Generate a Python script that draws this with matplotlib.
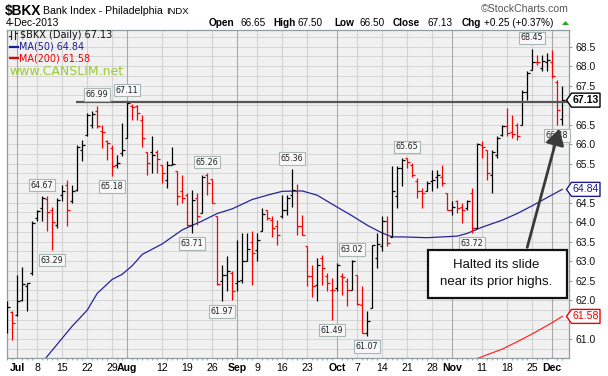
import matplotlib
matplotlib.use("Agg")
import matplotlib.pyplot as plt
from matplotlib.patches import Polygon, Rectangle, FancyArrowPatch
from matplotlib.lines import Line2D
from matplotlib.transforms import ScaledTranslation
import pandas as pd

W, H = 608, 376

# ---------------- data ----------------
holidays = ["2013-07-04", "2013-09-02", "2013-11-28"]
dates = [d for d in pd.bdate_range("2013-06-27", "2013-12-04")
         if d.strftime("%Y-%m-%d") not in holidays]

opens = [61.60, 61.70, 61.62, 62.00, 62.35, 62.70, 64.10, 64.36, 64.60, 64.30,
         63.93, 64.70, 64.96, 64.53, 64.83, 65.86, 66.24, 66.50, 66.84, 66.33,
         66.07, 65.90, 65.47, 65.77, 66.16, 66.97, 66.97, 66.63, 65.81, 65.81,
         65.81, 65.47, 65.09, 65.47, 65.30, 64.79, 64.70, 63.93, 64.62, 64.23,
         65.20, 65.10, 64.15, 62.48, 62.65, 62.70, 62.44, 62.52, 62.99, 63.50,
         63.29, 63.76, 64.32, 64.06, 63.89, 64.15, 64.32, 64.70, 64.79, 63.89,
         63.38, 62.61, 62.39, 63.08, 62.61, 62.27, 62.31, 62.61, 62.48, 62.27,
         62.65, 61.88, 61.15, 61.80, 63.08, 63.38, 64.02, 63.63, 64.66, 65.39,
         65.64, 65.47, 65.05, 64.79, 64.79, 65.05, 65.17, 65.17, 64.75, 64.32,
         64.53, 64.40, 64.36, 64.75, 63.85, 65.99, 65.86, 65.22, 65.73, 66.24,
         66.46, 66.30, 66.50, 66.50, 67.35, 67.91, 68.12, 67.95, 68.12, 68.12,
         67.60, 66.65]
highs = [61.97, 61.71, 62.65, 62.86, 62.44, 64.02, 64.32, 64.67, 64.66, 64.40,
         64.62, 64.96, 65.09, 64.96, 65.99, 66.11, 66.80, 66.84, 66.99, 66.50,
         66.11, 65.99, 65.73, 66.54, 67.11, 67.03, 67.01, 66.76, 65.81, 66.20,
         65.86, 65.47, 65.56, 65.94, 65.30, 65.22, 64.75, 64.83, 64.75, 65.20,
         65.26, 65.10, 64.15, 62.90, 63.12, 62.74, 63.55, 63.72, 63.72, 63.76,
         63.72, 64.36, 64.32, 64.15, 64.06, 64.70, 64.70, 65.36, 64.98, 64.19,
         63.38, 62.91, 63.08, 63.16, 62.69, 62.57, 62.95, 62.69, 62.57, 63.02,
         62.65, 62.35, 61.71, 63.42, 63.72, 64.15, 64.15, 65.43, 65.43, 65.64,
         65.65, 65.52, 65.13, 64.87, 65.05, 65.34, 65.34, 65.47, 64.75, 64.53,
         64.58, 64.49, 64.58, 64.87, 66.03, 66.07, 65.86, 65.86, 66.20, 66.50,
         66.93, 66.76, 66.54, 67.40, 67.87, 68.45, 68.30, 68.30, 68.34, 68.42,
         67.65, 67.50]
lows = [61.15, 60.98, 61.58, 61.97, 61.71, 62.65, 64.04, 64.03, 63.76, 63.29,
        63.85, 64.53, 63.89, 64.49, 64.79, 65.56, 66.20, 66.41, 66.41, 65.90,
        65.60, 65.18, 65.39, 65.69, 66.16, 66.63, 66.63, 65.94, 65.22, 65.26,
        65.26, 65.00, 64.87, 65.47, 64.45, 64.49, 63.89, 63.71, 63.93, 64.23,
        64.70, 64.49, 62.39, 61.97, 62.22, 62.01, 62.22, 62.44, 62.99, 62.39,
        62.99, 63.76, 64.06, 63.63, 63.42, 64.10, 64.19, 64.40, 63.68, 63.68,
        62.35, 62.09, 61.97, 62.39, 62.22, 61.49, 62.22, 62.14, 61.84, 62.27,
        61.88, 61.15, 61.07, 61.80, 62.82, 63.25, 63.38, 63.63, 64.36, 64.92,
        65.39, 65.17, 64.62, 64.36, 64.79, 64.79, 64.87, 64.92, 64.32, 64.19,
        64.23, 63.98, 64.32, 63.72, 63.85, 65.64, 65.09, 64.75, 65.64, 66.20,
        66.20, 66.16, 66.11, 66.50, 67.14, 67.91, 68.04, 67.87, 67.87, 67.70,
        66.48, 66.50]
closes = [61.82, 61.41, 61.97, 62.40, 62.43, 63.98, 64.28, 64.62, 64.25, 64.00,
          64.58, 64.79, 64.32, 64.79, 65.94, 65.98, 66.76, 66.77, 66.46, 66.30,
          66.03, 65.45, 65.52, 65.86, 67.05, 66.95, 66.80, 66.16, 65.52, 65.73,
          65.63, 65.26, 65.47, 65.50, 64.66, 64.62, 63.93, 64.58, 64.15, 65.15,
          65.00, 64.50, 62.40, 62.65, 62.75, 62.22, 62.50, 62.99, 63.30, 63.20,
          63.55, 64.20, 64.10, 63.85, 63.68, 64.32, 64.62, 64.82, 63.89, 63.68,
          62.61, 62.35, 62.90, 62.82, 62.44, 62.25, 62.90, 62.60, 62.27, 63.00,
          61.90, 61.15, 61.45, 63.40, 63.45, 64.02, 63.46, 64.79, 65.39, 65.60,
          65.55, 65.22, 64.79, 64.75, 65.00, 65.08, 65.20, 65.00, 64.32, 64.40,
          64.36, 64.32, 64.53, 63.85, 66.00, 65.94, 65.26, 65.81, 66.16, 66.46,
          66.29, 66.25, 66.20, 67.35, 67.83, 68.12, 68.10, 68.14, 68.16, 67.74,
          66.88, 67.13]

ma50_dates = ["2013-07-09", "2013-07-15", "2013-07-17", "2013-07-22", "2013-07-24",
              "2013-07-29", "2013-07-31", "2013-08-02", "2013-08-06", "2013-08-12",
              "2013-08-16", "2013-08-22", "2013-08-27", "2013-08-30", "2013-09-06",
              "2013-09-11", "2013-09-16", "2013-09-20", "2013-09-25", "2013-09-30",
              "2013-10-04", "2013-10-09", "2013-10-14", "2013-10-16", "2013-10-18",
              "2013-10-25", "2013-11-04", "2013-11-06", "2013-11-11", "2013-11-15",
              "2013-11-20", "2013-11-25", "2013-12-02", "2013-12-04"]
ma50_vals = [60.40, 61.02, 61.33, 61.74, 62.17, 62.53, 62.66, 62.88, 63.17, 63.44,
             63.80, 64.03, 64.22, 64.34, 64.58, 64.69, 64.79, 64.80, 64.69, 64.46,
             64.16, 63.92, 63.72, 63.62, 63.62, 63.60, 63.64, 63.71, 63.87, 64.05,
             64.22, 64.42, 64.70, 64.84]
ma200_dates = ["2013-11-07", "2013-11-08", "2013-11-15", "2013-11-20", "2013-11-25",
               "2013-12-02", "2013-12-04"]
ma200_vals = [60.45, 60.50, 60.74, 60.93, 61.13, 61.42, 61.58]

callout_dates = ["2013-07-09", "2013-07-11", "2013-07-24", "2013-07-29", "2013-08-01",
                 "2013-08-20", "2013-08-23", "2013-08-28", "2013-09-18", "2013-09-30",
                 "2013-10-04", "2013-10-09", "2013-10-21", "2013-11-07", "2013-11-25",
                 "2013-12-03"]
callout_vals = [64.67, 63.29, 66.99, 65.18, 67.11, 63.71, 65.26, 61.97, 65.36, 61.49,
                63.02, 61.07, 65.65, 63.72, 68.45, 66.48]
callout_side = ["H", "L", "H", "L", "H", "L", "H", "L", "H", "L",
                "H", "L", "H", "L", "H", "L"]

xtick_dates = ["2013-07-01", "2013-07-08", "2013-07-15", "2013-07-22", "2013-07-29",
               "2013-08-01", "2013-08-12", "2013-08-19", "2013-08-26", "2013-09-03",
               "2013-09-09", "2013-09-16", "2013-09-23", "2013-10-01", "2013-10-07",
               "2013-10-14", "2013-10-21", "2013-10-28", "2013-11-01", "2013-11-11",
               "2013-11-18", "2013-11-25", "2013-12-02"]
xtick_labels = ["Jul", "8", "15", "22", "29", "Aug", "12", "19", "26", "Sep", "9", "16",
                "23", "Oct", "7", "14", "21", "28", "Nov", "11", "18", "25", "Dec"]

ytick_vals = [61.0, 61.5, 62.0, 62.5, 63.0, 63.5, 64.0, 64.5, 65.0, 65.5, 66.0,
              66.5, 67.0, 67.5, 68.0, 68.5]

resistance_level = 67.08
last_close, last_ma50, last_ma200 = 67.13, 64.84, 61.58

# ---------------- figure ----------------
idx = {d.strftime("%Y-%m-%d"): i for i, d in enumerate(dates)}
xs = list(range(len(dates)))

fig = plt.figure(figsize=(W / 100, H / 100), dpi=100)
fig.patch.set_facecolor("white")
L, R, T, B = 6.7, 569.5, 30.0, 357.7
ax = fig.add_axes([L / W, 1 - B / H, (R - L) / W, (B - T) / H])
ax.set_facecolor("#f1f1f1")
ax.set_xlim(-0.1, 112.46)
ax.set_ylim(60.52, 68.93)


def P(x, y):
    return (x / W, 1 - y / H)


# grid
for v in [60.75 + 0.25 * k for k in range(33)]:
    ax.axhline(v, color="#d6d6d6", lw=0.7, zorder=0)
month_lbl = {"Jul", "Aug", "Sep", "Oct", "Nov", "Dec"}
for d, lab in zip(xtick_dates, xtick_labels):
    ax.axvline(idx[d], color="#a9a9a9" if lab in month_lbl else "#d2d2d2",
               lw=0.8, zorder=0)

# bars
prev = None
cols = []
for c in closes:
    cols.append("#000000" if prev is None or c >= prev else "#ff0000")
    prev = c
hw = 0.5
ax.vlines(xs, lows, highs, colors=cols, lw=0.9, zorder=3)
ax.hlines(opens, [x - hw for x in xs], xs, colors=cols, lw=0.9, zorder=3)
ax.hlines(closes, xs, [x + hw for x in xs], colors=cols, lw=0.9, zorder=3)

# moving averages
ax.plot([idx[d] for d in ma50_dates], ma50_vals, color="#25259a", lw=0.9, zorder=2)
ax.plot([idx[d] for d in ma200_dates], ma200_vals, color="#ff2a2a", lw=0.9, zorder=2)

# resistance line
ax.plot([13.8, 112.46], [resistance_level] * 2, color="#555555", lw=1.6, zorder=4,
        solid_capstyle="butt")

# callouts
for d, v, s in zip(callout_dates, callout_vals, callout_side):
    off = 7.8 if s == "H" else -7.4
    ax.annotate(f"{v:.2f}", xy=(idx[d], v), xytext=(0, off), textcoords="offset points",
                ha="center", va="center", fontsize=5.8, family="DejaVu Sans",
                color="#222222", zorder=6,
                bbox=dict(boxstyle="square,pad=0.22", fc="#f8f8f8", ec="#a9b6b6", lw=0.8))

# axes styling
for sp in ax.spines.values():
    sp.set_color("#8f9f9f")
    sp.set_linewidth(0.9)
ax.yaxis.tick_right()
ax.set_yticks(ytick_vals)
hidden = {67.0, 65.0, 61.5}   # covered by the value tags
ax.set_yticklabels(["" if v in hidden else f"{v:.1f}" for v in ytick_vals], fontsize=7.5,
                   family="Liberation Sans", color="#111111")
ax.tick_params(axis="y", length=2, width=0.8, color="#8f9f9f", pad=2)
ax.set_xticks([idx[d] for d in xtick_dates])
ax.set_xticklabels(xtick_labels, fontsize=7.6, family="Liberation Sans")
for t in ax.get_xticklabels():
    if t.get_text() in month_lbl:
        t.set_fontweight("bold")
    if t.get_text() == "Aug":
        t.set_transform(t.get_transform() + ScaledTranslation(1.6 / 72, 0, fig.dpi_scale_trans))
    if t.get_text() == "29":
        t.set_transform(t.get_transform() + ScaledTranslation(-0.8 / 72, 0, fig.dpi_scale_trans))
ax.set_xticks(xs, minor=True)
ax.tick_params(axis="x", which="major", length=0, pad=4)
ax.tick_params(axis="x", which="minor", length=1.5, width=0.7, color="#8f9f9f")

fig.canvas.draw()


def ypix(v):
    return H - ax.transData.transform((0, v))[1]


# right tags
def tag(v, text, color, bold=False):
    yc = ypix(v)
    pts = [P(566.5, yc), P(571.5, yc - 7), P(600, yc - 7), P(600, yc + 7), P(571.5, yc + 7)]
    fig.patches.append(Polygon(pts, closed=True, transform=fig.transFigure, fc="white",
                               ec=color, lw=1.0, zorder=10))
    fig.text(*P(586, yc), text, ha="center", va="center", fontsize=7.6,
             family="Liberation Sans", color=color,
             fontweight="bold" if bold else "normal", zorder=11)


tag(last_close, f"{last_close:.2f}", "#000000", bold=True)
tag(last_ma50, f"{last_ma50:.2f}", "#1c1c8c")
tag(last_ma200, f"{last_ma200:.2f}", "#ee0000")

# annotation box and arrow
fig.patches.append(Rectangle(P(427.5, 297.5), 139 / W, 47.5 / H, transform=fig.transFigure,
                             fc="white", ec="#111111", lw=1.6, zorder=12))
fig.text(*P(496, 265.5), "Halted its slide", ha="center", va="center", fontsize=9.5,
         family="Liberation Sans", color="#111111", zorder=13)
fig.text(*P(496, 281.5), "near its prior highs.", ha="center", va="center", fontsize=9.5,
         family="Liberation Sans", color="#111111", zorder=13)
fig.patches.append(FancyArrowPatch(P(526.5, 250), P(560, 126), transform=fig.transFigure,
                                   arrowstyle="-|>,head_length=6,head_width=3.5",
                                   mutation_scale=1.6, color="#3a3a3a", lw=2.0, zorder=11))

# header
fig.text(*P(5, 10.5), "$BKX", fontsize=9.8, fontweight="bold", family="Liberation Sans",
         va="center")
fig.text(*P(43.5, 10.5), "Bank Index - Philadelphia", fontsize=7.6, family="Liberation Sans",
         va="center")
fig.text(*P(166.5, 11), "INDX", fontsize=6.8, family="Liberation Sans", va="center")
fig.text(*P(5.5, 22.7), "4-Dec-2013", fontsize=7.4, family="Liberation Sans", va="center")
fig.text(*P(569, 9.3), "\u00a9StockCharts.com", fontsize=7.6, family="Liberation Sans",
         va="center", ha="right", color="#555555")
hdr = [(208.3, "Open", True), (240.7, "66.65", False), (273.3, "High", True),
       (298.0, "67.50", False), (334.0, "Low", True), (359.0, "66.50", False),
       (393.0, "Close", True), (428.0, "67.13", False), (461.7, "Chg", True),
       (484.0, "+0.25 (+0.37%)", False)]
for x, s, b in hdr:
    fig.text(*P(x, 22.7), s, fontsize=7.2, family="Liberation Sans", va="center",
             fontweight="bold" if b else "normal")
fig.patches.append(Polygon([P(562, 25), P(569, 25), P(565.5, 21)], closed=True,
                           transform=fig.transFigure, fc="#22aa22", ec="none"))

# in-chart legend
for xx in (11.0, 15.0):
    fig.lines.append(Line2D([xx / W] * 2, [1 - 31 / H, 1 - 39 / H], color="#222222",
                            lw=0.8, transform=fig.transFigure))
fig.lines.append(Line2D([9 / W, 11 / W], [1 - 36 / H] * 2, color="#222222", lw=0.8,
                        transform=fig.transFigure))
fig.lines.append(Line2D([15 / W, 17 / W], [1 - 33 / H] * 2, color="#222222", lw=0.8,
                        transform=fig.transFigure))
fig.text(*P(20.5, 35.0), "$BKX (Daily) 67.13", fontsize=7.0, family="DejaVu Sans",
         va="center", color="#111111")
fig.lines.append(Line2D([10 / W, 18.3 / W], [1 - 46.7 / H] * 2, color="#1c1c8c", lw=1.6,
                        transform=fig.transFigure))
fig.text(*P(19.3, 46.7), "MA(50) 64.84", fontsize=6.9, family="DejaVu Sans", va="center",
         color="#1c1c8c")
fig.lines.append(Line2D([10 / W, 18.3 / W], [1 - 58.3 / H] * 2, color="#ee0000", lw=1.6,
                        transform=fig.transFigure))
fig.text(*P(19.3, 58.3), "MA(200) 61.58", fontsize=6.9, family="DejaVu Sans", va="center",
         color="#ee0000")
fig.text(*P(9.3, 71.7), "www.CANSLIM.net", fontsize=9.0, family="DejaVu Sans", va="center",
         color="#99cc33")

fig.savefig("out.png", dpi=100)
